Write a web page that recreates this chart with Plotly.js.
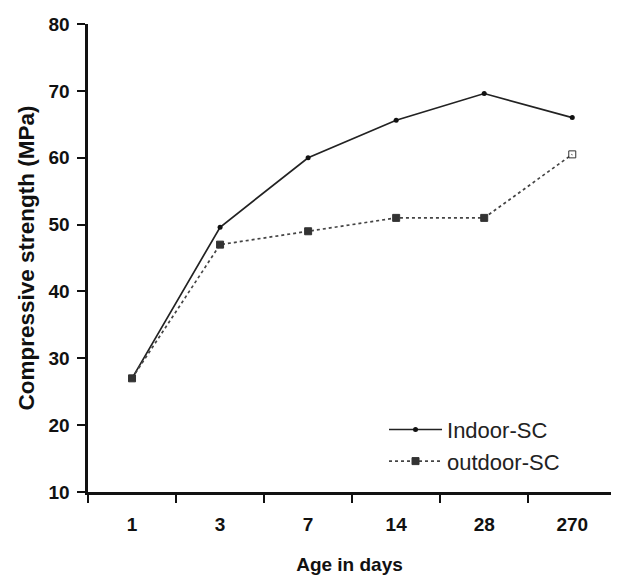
<!DOCTYPE html>
<html>
<head>
<meta charset="utf-8">
<script src="https://cdn.plot.ly/plotly-3.0.1.min.js"></script>
<style>body{margin:0;padding:0;background:#fff}#chart{width:619px;height:575px}</style>
</head>
<body>
<div id="chart"></div>
<script>
var ages = ["1", "3", "7", "14", "28", "270"];
var indoorSC = [27, 49.6, 60, 65.6, 69.6, 66];
var outdoorSC = [27, 47, 49, 51, 51, 60.5];
var seriesNames = ["Indoor-SC", "outdoor-SC"];

var font = "Liberation Sans, Arial, sans-serif";
var traces = [
  {
    x: ages, y: indoorSC, name: seriesNames[0], type: "scatter", mode: "lines+markers",
    line: {color: "#222", width: 1.7},
    marker: {symbol: "circle", size: 5, color: "#111"}
  },
  {
    x: ages, y: outdoorSC, name: seriesNames[1], type: "scatter", mode: "lines+markers",
    line: {color: "#444", width: 1.7, dash: "dot"},
    marker: {symbol: ["square","square","square","square","square","square-open"], size: 7, color: "#333", line: {color: "#333", width: 1}}
  }
];
var layout = {
  width: 619, height: 575,
  margin: {l: 88, r: 8, t: 24, b: 83},
  paper_bgcolor: "#fff", plot_bgcolor: "#fff",
  font: {family: font, color: "#111"},
  showlegend: true,
  legend: {x: 0.566, y: 0.178, xanchor: "left", yanchor: "top", bgcolor: "rgba(0,0,0,0)",
           font: {size: 22, family: font, color: "#222"}, itemwidth: 53, tracegroupgap: 0},
  xaxis: {
    type: "category", range: [-0.5, 5.44],
    showline: true, linecolor: "#111", linewidth: 2.6,
    ticks: "outside", ticklen: 8, tickwidth: 2, tickcolor: "#111",
    tickson: "boundaries", showgrid: false, zeroline: false,
    ticklabelstandoff: 14,
    tickfont: {size: 19, family: font, weight: "bold"},
    automargin: false,
    title: {text: "<b>Age in days</b>", font: {size: 19, family: font}, standoff: 25}
  },
  yaxis: {
    range: [10, 80], dtick: 10,
    showline: true, linecolor: "#111", linewidth: 2.6,
    ticks: "outside", ticklen: 8, tickwidth: 2, tickcolor: "#111",
    showgrid: false, zeroline: false,
    ticklabelstandoff: 4,
    tickfont: {size: 19, family: font, weight: "bold"},
    automargin: false,
    title: {text: "<b>Compressive strength (MPa)</b>", font: {size: 22.5, family: font}, standoff: 8}
  }
};
Plotly.newPlot("chart", traces, layout, {displayModeBar: false, staticPlot: true});
</script>
</body>
</html>
